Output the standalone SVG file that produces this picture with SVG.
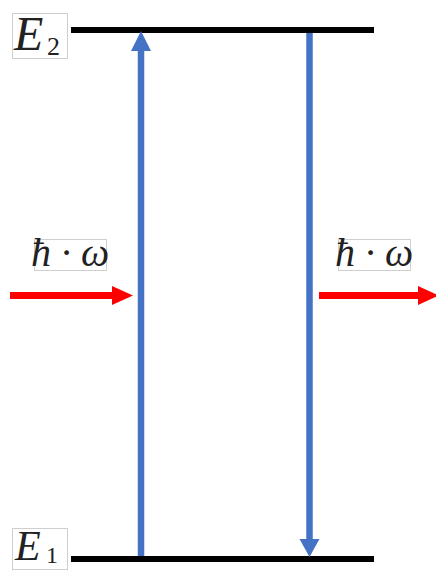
<svg xmlns="http://www.w3.org/2000/svg" width="436" height="570" viewBox="0 0 436 570">
<style>
.lvl{stroke:#000;stroke-width:6;fill:none}
.tr{stroke:#4472C4;stroke-width:6.5;fill:none}
.ph{stroke:#FF0000;stroke-width:7;fill:none}
.box{fill:#fff;stroke:#cfcfcf;stroke-width:1}
.m{font-family:"Liberation Serif","DejaVu Serif",serif;fill:#222}
</style>
<rect width="436" height="570" fill="#fff"/>
<g id="E2">
<rect class="box" x="12.5" y="13.5" width="55" height="45"/>
<text class="m" x="14" y="50" font-size="48" font-style="italic">E</text>
<text class="m" x="47" y="55" font-size="26">2</text>
</g>
<g id="E1">
<rect class="box" x="12.5" y="528.5" width="55" height="41"/>
<text class="m" x="15" y="560" font-size="42" font-style="italic">E</text>
<text class="m" x="46" y="563" font-size="24">1</text>
</g>
<g id="level2"><line class="lvl" x1="71" y1="30" x2="374" y2="30"/></g>
<g id="level1"><line class="lvl" x1="71" y1="559" x2="374" y2="559"/></g>
<g id="photonInLabel">
<rect class="box" x="34.5" y="239.5" width="72" height="31"/>
<text class="m" x="70" y="266" font-size="40" text-anchor="middle" font-style="italic">ħ · ω</text>
</g>
<g id="photonOutLabel">
<rect class="box" x="338.5" y="239.5" width="72" height="31"/>
<text class="m" x="374" y="266" font-size="40" text-anchor="middle" font-style="italic">ħ · ω</text>
</g>
<g id="connectors">
<line class="tr" x1="141" y1="556" x2="141" y2="50"/>
<polygon points="131,51 151,51 141,31" fill="#4472C4"/>
<line class="tr" x1="309.5" y1="33" x2="309.5" y2="540"/>
<polygon points="299.5,539 319.5,539 309.5,557" fill="#4472C4"/>
<line class="ph" x1="10" y1="295.5" x2="114" y2="295.5"/>
<polygon points="112,286 112,305 133,295.5" fill="#FF0000"/>
<line class="ph" x1="319" y1="295.5" x2="420" y2="295.5"/>
<polygon points="418,286 418,305 439,295.5" fill="#FF0000"/>
</g>
</svg>
